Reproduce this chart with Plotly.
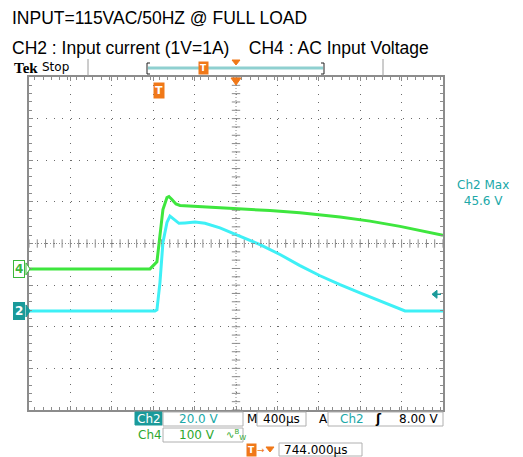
import plotly.graph_objects as go

# ---------------- data ----------------
# Ch2 : input current (volts on the probe, 1V = 1A), time relative to trigger
ch2_time_us = [-1256, -39, -20, 9, 38, 77, 106, 145, 193, 251, 348, 444, 589, 744,
               976, 1169, 1362, 1556, 1749, 1942, 2135, 2280, 2377, 2744]
ch2_volts = [0.0, 0.0, 0.5, 13.5, 32.9, 42.5, 45.6, 44.0, 42.1, 42.3, 42.7, 42.1, 39.9, 36.7,
             31.9, 27.1, 21.8, 16.9, 12.6, 8.7, 4.8, 1.9, 0.0, 0.0]
# Ch4 : AC input voltage
ch4_time_us = [-1256, -87, -20, 9, 38, 77, 96, 125, 164, 203, 396, 744,
               1072, 1362, 1749, 2039, 2329, 2744]
ch4_volts = [0.0, 0.0, 16.9, 77.3, 142.6, 171.6, 174.0, 166.8, 155.9, 152.3, 149.8, 144.3,
             140.2, 134.6, 124.5, 114.8, 102.2, 81.0]

CH2_SCALE = 20.0     # V/div
CH4_SCALE = 100.0    # V/div
CH2_POS = -1.62      # div
CH4_POS = -0.61      # div
TIMEBASE = 400.0     # us/div
H_POS = 744.0        # us
TRIG_LEVEL = 8.0     # V on Ch2
CH2_MAX = 45.6

ch2_div = [v / CH2_SCALE + CH2_POS for v in ch2_volts]
ch4_div = [v / CH4_SCALE + CH4_POS for v in ch4_volts]

# ---------------- geometry helpers (window pixels) ----------------
WIN_W, WIN_H = 523, 457
OFF = 8                      # page body margin
FW, FH = WIN_W - OFF, WIN_H - OFF
L, R, T, B = 29, 443, 77, 410
W, H = R - L, B - T


def px(x):
    return (x - L) / W


def py(y):
    return (B - y) / H


GRID = "#6a6a6a"
BORDER = "#8c8c8c"
TEAL = "#1a9a9a"
TEAL_TXT = "#20a8a8"
GREEN_TXT = "#2ea82e"
ORANGE = "#f07818"
MONO = "DejaVu Sans"

fig = go.Figure()

# graticule centre-line ticks
xmin, xmax = H_POS - 5 * TIMEBASE, H_POS + 5 * TIMEBASE
cx = [xmin + i * TIMEBASE / 5 for i in range(51)]
cy = [-4 + i * 0.2 for i in range(41)]
fig.add_trace(go.Scatter(x=cx, y=[0] * len(cx), mode="markers",
                         marker=dict(symbol="line-ns-open", size=6, color=BORDER,
                                     line=dict(width=1, color=BORDER)),
                         hoverinfo="skip", showlegend=False))
fig.add_trace(go.Scatter(x=[H_POS] * len(cy), y=cy, mode="markers",
                         marker=dict(symbol="line-ew-open", size=6, color=BORDER,
                                     line=dict(width=1, color=BORDER)),
                         hoverinfo="skip", showlegend=False))

fig.add_trace(go.Scatter(x=ch4_time_us, y=ch4_div, mode="lines",
                         line=dict(color="#3ee63e", width=3), showlegend=False))
fig.add_trace(go.Scatter(x=ch2_time_us, y=ch2_div, mode="lines",
                         line=dict(color="#3ef0f6", width=3), showlegend=False))

axis_common = dict(showgrid=True, gridcolor=GRID, gridwidth=1, showticklabels=False,
                   zeroline=False, showline=True, linecolor=BORDER, linewidth=2,
                   mirror="allticks", ticks="inside", ticklen=4, tickcolor=BORDER)

fig.update_xaxes(range=[xmin, xmax], tick0=H_POS, dtick=TIMEBASE, griddash="1px,7.3px",
                 minor=dict(dtick=TIMEBASE / 5, ticks="inside", ticklen=3, tickcolor=BORDER,
                            showgrid=False),
                 **axis_common)
fig.update_yaxes(range=[-4, 4], tick0=0, dtick=1, griddash="1px,7.3px",
                 minor=dict(dtick=0.2, ticks="inside", ticklen=3, tickcolor=BORDER,
                            showgrid=False),
                 **axis_common)

shapes = []
# centre cross lines
shapes.append(dict(type="line", xref="x", yref="y", x0=xmin, x1=xmax, y0=0, y1=0,
                   line=dict(color=BORDER, width=1, dash="1px,2px")))
shapes.append(dict(type="line", xref="x", yref="y", x0=H_POS, x1=H_POS, y0=-4, y1=4,
                   line=dict(color=BORDER, width=1, dash="1px,2px")))


def pline(x0, y0, x1, y1, color, width=1):
    shapes.append(dict(type="line", xref="paper", yref="paper",
                       x0=px(x0), y0=py(y0), x1=px(x1), y1=py(y1),
                       line=dict(color=color, width=width)))


def prect(x0, y0, x1, y1, line="#b0b0b0", fill="white", width=1):
    shapes.append(dict(type="rect", xref="paper", yref="paper",
                       x0=px(x0), y0=py(y1), x1=px(x1), y1=py(y0),
                       line=dict(color=line, width=width), fillcolor=fill))


def ppath(pts, fill, line=None):
    d = "M " + " L ".join(f"{px(a):.5f},{py(b):.5f}" for a, b in pts) + " Z"
    shapes.append(dict(type="path", xref="paper", yref="paper", path=d,
                       fillcolor=fill, line=dict(color=line or fill, width=1)))


# record-view bar on top
pline(88, 59, 88, 76, "#9a9a9a", 1)
pline(383, 59, 383, 76, "#9a9a9a", 1)
pline(148, 68, 323, 68, "#8fd0d0", 3)
for xb, d in ((147, 1), (324, -1)):
    pline(xb, 63, xb, 74, "#202020", 1)
    pline(xb, 63, xb + 3 * d, 63, "#202020", 1)
    pline(xb, 74, xb + 3 * d, 74, "#202020", 1)
ppath([(232, 60), (240, 60), (236, 65)], ORANGE)
# expansion point marker at top of graticule
ppath([(231, 78), (241, 78), (236, 85)], ORANGE)
# Ch2 trigger level marker on right
tl_y = B - ((TRIG_LEVEL / CH2_SCALE + CH2_POS) + 4) / 8 * H
ppath([(432, tl_y), (437, tl_y - 4), (437, tl_y + 4)], TEAL)
pline(437, tl_y, 441, tl_y, TEAL, 1.5)
# ground markers arrows on left
g4 = B - (CH4_POS + 4) / 8 * H
g2 = B - (CH2_POS + 4) / 8 * H
ppath([(26, g4 - 6), (30, g4), (26, g4 + 6)], "white", "#3cb83c")
ppath([(26, g2 - 6), (30, g2), (26, g2 + 6)], TEAL)

# readout boxes
prect(135, 412, 162, 425, line=TEAL, fill=TEAL)
prect(163, 412, 243, 426)
prect(257, 412, 306, 426)
prect(328, 412, 443, 426)
prect(163, 428, 243, 442)
prect(279, 443, 362, 456)

ann = []


def text(x, y, s, size=12, color="black", family=MONO, anchor="left", **kw):
    ann.append(dict(x=px(x), y=py(y), xref="paper", yref="paper", text=s, showarrow=False,
                    xanchor=anchor, yanchor="middle",
                    font=dict(size=size, color=color, family=family), **kw))


TITLE_FONT = "Liberation Sans, Arial"
text(10, 18, "INPUT=115VAC/50HZ @ FULL LOAD", size=17.5, family=TITLE_FONT)
text(10, 48, "CH2 : Input current (1V=1A)&nbsp;&nbsp;&nbsp;&nbsp;CH4 : AC Input Voltage",
     size=17.5, family=TITLE_FONT)
text(12, 68, "<b>Tek</b>", size=15, family="Liberation Serif, DejaVu Serif")
text(40, 67, "Stop", size=12, family="DejaVu Sans")

# orange trigger markers
text(203, 68, "<b>T</b>", size=9, color="white", anchor="center", bgcolor=ORANGE,
     borderpad=1)
text(159, 90, "<b>T</b>", size=11, color="white", anchor="center", bgcolor=ORANGE,
     borderpad=1)

# ground markers
text(19, g4, "<b>4</b>", size=12, color="#3cb83c", anchor="center", bgcolor="white",
     bordercolor="#3cb83c", borderwidth=1, borderpad=1)
text(19, g2, "<b>2</b>", size=12, color="white", anchor="center", bgcolor=TEAL,
     bordercolor=TEAL, borderwidth=1, borderpad=1)

# Ch2 max measurement
text(483, 193, f"Ch2 Max<br>{CH2_MAX:.1f} V", size=12, color=TEAL_TXT, anchor="center",
     align="center")

# bottom readouts
text(148.5, 418.5, "Ch2", size=12, color="white", anchor="center")
text(177, 419, f"{CH2_SCALE:.1f} V", size=12, color=TEAL_TXT)
text(245, 419, "M", size=12)
text(261, 419, f"{TIMEBASE:.0f}µs", size=12)
text(317, 419, "A", size=12)
text(338, 419, "Ch2", size=12, color=TEAL_TXT)
text(373, 419, "<b>ʃ</b>", size=12)
text(441, 419, f"{TRIG_LEVEL:.2f} V", size=12, anchor="right")
text(136, 435, "Ch4", size=12, color=GREEN_TXT)
text(177, 435, f"{CH4_SCALE:.0f} V", size=12, color=GREEN_TXT)
text(224, 435, "∿<sup>B</sup><sub>W</sub>", size=10, color=GREEN_TXT)
text(252, 450, "<b>T</b>", size=9, color="white", anchor="center", bgcolor=ORANGE,
     borderpad=1)
text(261, 450, "→", size=9, color=ORANGE, anchor="center")
ppath([(266, 447), (274, 447), (270, 452)], ORANGE)
text(282, 450, f"{H_POS:.3f}µs", size=12)

fig.update_layout(width=FW, height=FH, autosize=False,
                  margin=dict(l=L - OFF, r=WIN_W - R, t=T - OFF, b=WIN_H - B, pad=0),
                  plot_bgcolor="white", paper_bgcolor="white",
                  showlegend=False, shapes=shapes, annotations=ann)

fig.write_html("out.html")
